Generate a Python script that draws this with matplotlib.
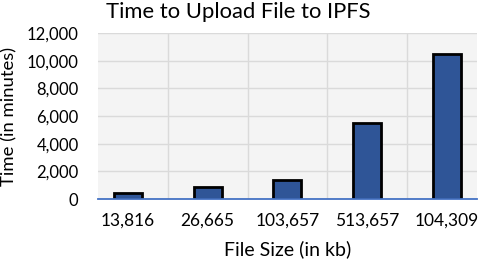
import matplotlib
matplotlib.use("Agg")
import matplotlib.pyplot as plt
import numpy as np

categories = ["13,816", "26,665", "103,657", "513,657", "104,309"]
values = [420, 880, 1350, 5520, 10480]
yticks = [0, 2000, 4000, 6000, 8000, 10000, 12000]

plt.rcParams['font.family'] = ['Lato', 'DejaVu Sans']

fig = plt.figure(figsize=(4.79, 2.64), dpi=100)
ax = fig.add_axes([98/479, 1-199/264, (477-98)/479, (199-33)/264])
ax.set_facecolor('#f4f4f4')
x = np.arange(len(categories))
ax.bar(x, values, width=0.35, color='#2f5597', edgecolor='black', linewidth=2, zorder=3)
ax.set_xlim(-0.377, 4.38)
ax.set_ylim(0, 12000)
ax.set_yticks(yticks)
ax.set_yticklabels([f"{v:,}" for v in yticks], fontsize=12)
ax.set_xticks(x)
ax.set_xticklabels(categories, fontsize=12.5)
ax.set_xticks([0.5, 1.5, 2.5, 3.5], minor=True)
ax.grid(axis='y', color='#dadada', linewidth=1, zorder=0)
ax.grid(axis='x', which='minor', color='#dadada', linewidth=1, zorder=0)
ax.tick_params(axis='both', which='both', length=0)
ax.tick_params(axis='y', pad=14)
ax.tick_params(axis='x', pad=10)
for s in ['top', 'right', 'left']:
    ax.spines[s].set_visible(False)
ax.spines['bottom'].set_color('#4472c4')
ax.spines['bottom'].set_linewidth(1.3)
ax.spines['bottom'].set_zorder(4)
ax.set_xlabel("File Size (in kb)", fontsize=14, labelpad=8)
ax.set_ylabel("Time (in minutes)", fontsize=13.3, labelpad=7)
fig.text(238/479, 1-12/264, "Time to Upload File to IPFS", fontsize=15.8, ha='center', va='center')
fig.savefig("out.png", dpi=100)
